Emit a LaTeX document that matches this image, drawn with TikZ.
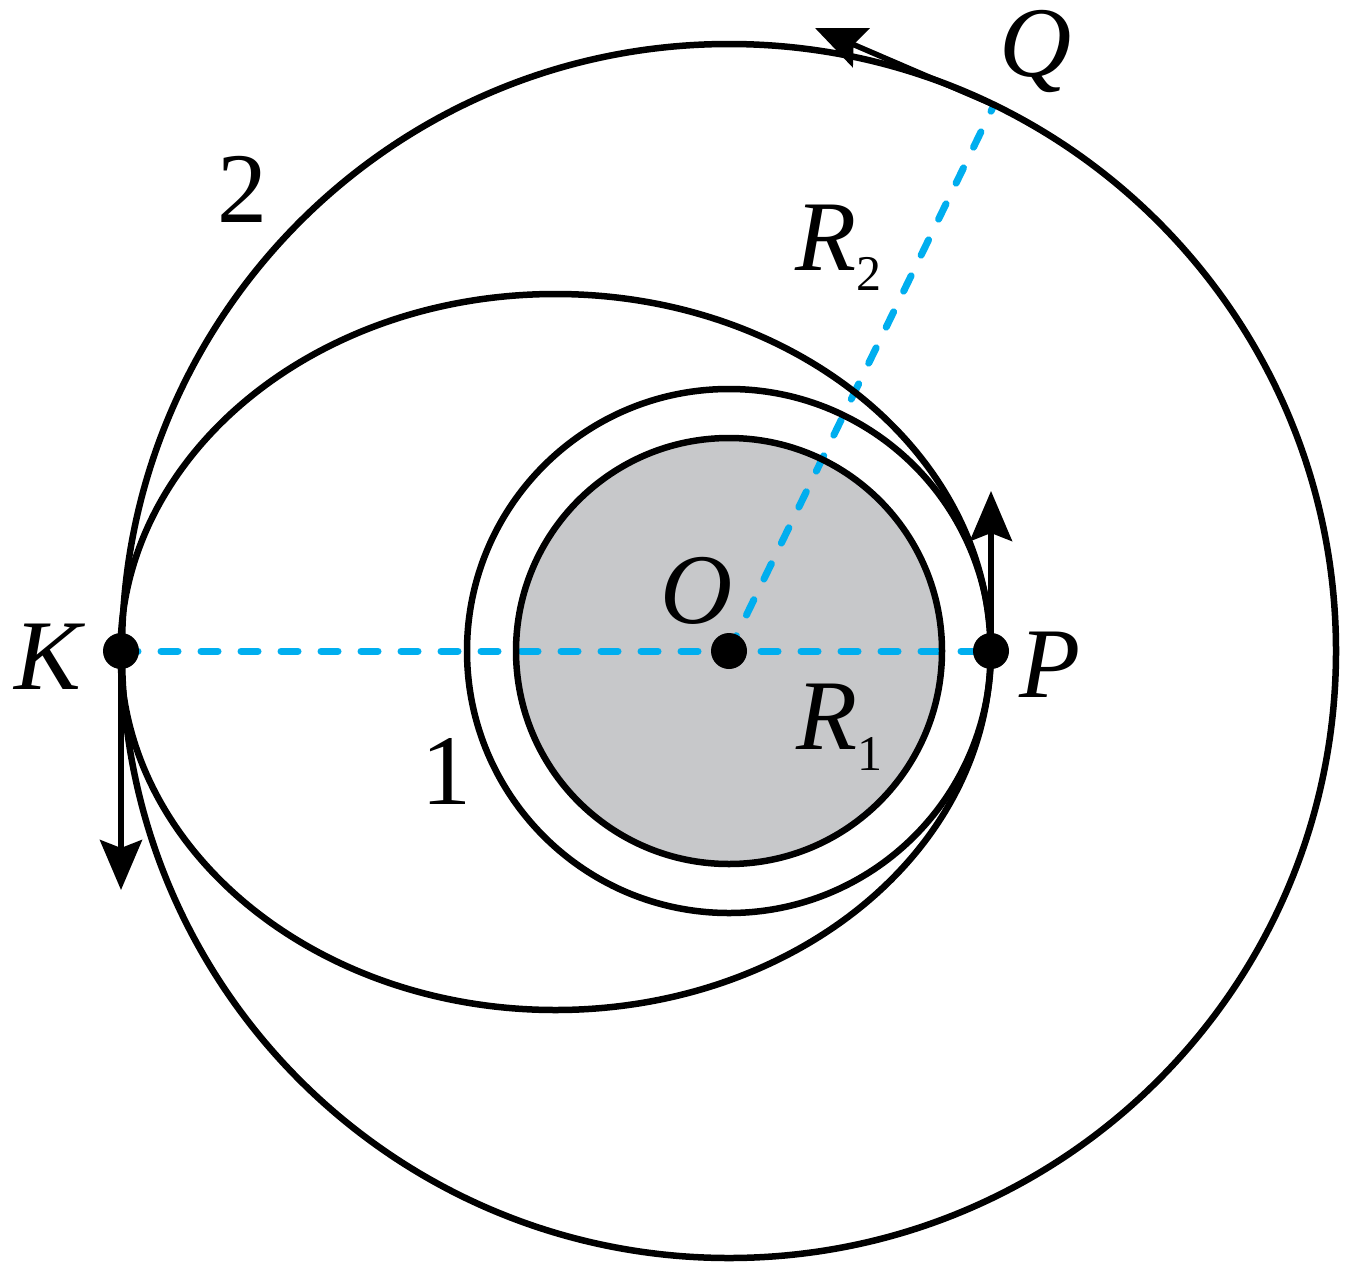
\documentclass[tikz,border=0pt]{standalone}
\usepackage{fontspec}
\setmainfont{Liberation Serif}
\usetikzlibrary{arrows.meta}
\definecolor{planetgray}{RGB}{199,200,202}
\definecolor{skyblue}{RGB}{0,174,239}
\tikzset{
  orbit/.style={draw=black, line width=6.5pt},
  radius line/.style={draw=skyblue, line width=7pt, line cap=round, dash pattern=on 17pt off 23pt},
  velocity/.style={draw=black, line width=5.5pt, -{Stealth[length=50pt, width=42pt, inset=8pt]}},
  dot/.style={circle, fill=black, inner sep=0pt, minimum size=36pt},
  lab/.style={font=\fontsize{100}{110}\selectfont\itshape, inner sep=0pt, anchor=base},
  num/.style={font=\fontsize{100}{110}\selectfont, inner sep=0pt, anchor=base},
  sub/.style={font=\fontsize{100}{110}\selectfont\itshape, inner sep=0pt, anchor=base west}
}
\begin{document}
\begin{tikzpicture}[x=1pt, y=-1pt]
\useasboundingbox (0,0) rectangle (1351,1274);
% centre and points
\coordinate (Oc) at (729,651);
\coordinate (Qc) at (994,105);
\coordinate (Ptip) at (991,491);
\coordinate (Ktip) at (121,890);
\coordinate (Qtip) at (815,28);
% planet
\fill[planetgray] (Oc) circle (213);
% radius lines
\draw[radius line] (121,651) -- (991,651);
\draw[radius line] (Oc) -- (Qc);
% outlines and orbits
\draw[orbit] (Oc) circle (213);
\draw[orbit] (Oc) circle (262);
\draw[orbit] (Oc) circle (607);
\draw[orbit] (555.5,652) ellipse [x radius=435, y radius=358];
% points
\node[dot] (O) at (Oc) {};
\node[dot] (K) at (121,651) {};
\node[dot] (P) at (991,651) {};
\coordinate (Q) at (Qc);
% velocity arrows
\draw[velocity] (P.center) -- (Ptip);
\draw[velocity] (K.center) -- (Ktip);
\draw[velocity] (Q) -- (Qtip);
% labels
\node[lab] (lK) at (48,689) {K};
\node[lab] (lP) at (1050,697) {P};
\node[lab] (lO) at (697,623) {O};
\node[lab] (lQ) at (1036,76) {Q};
\node[num] (l2) at (242,222) {2};
\node[num] (l1) at (446,804) {1};
\node[sub] (lR2) at (795,270) {R\raisebox{-20pt}{\fontsize{50}{50}\selectfont\upshape 2}};
\node[sub] (lR1) at (796,749) {R\raisebox{-21pt}{\fontsize{50}{50}\selectfont\upshape 1}};
\end{tikzpicture}
\end{document}
